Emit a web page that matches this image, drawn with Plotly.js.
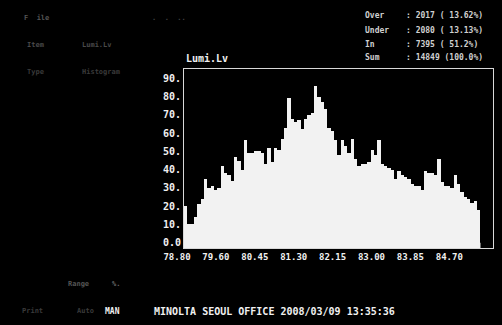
<!DOCTYPE html>
<html>
<head>
<meta charset="utf-8">
<script src="https://cdn.plot.ly/plotly-3.0.1.min.js"></script>
<style>
html,body{margin:0;padding:0;background:#000;}
#chart{width:502px;height:325px;}
</style>
</head>
<body>
<div id="chart"></div>
<script>
// Histogram counts (Lumi.Lv), left to right
const counts = [20,10,10,14,21,24,35,30,31,29,30,42,38,37,34,47,45,40,56,49,
  49,50,50,49,43,52,44,52,51,57,63,79,68,66,67,62,68,70,71,86,
  80,77,73,63,61,56,48,56,53,49,57,46,42,43,43,44,51,48,56,43,
  42,41,40,35,39,37,36,35,32,31,31,29,39,38,38,37,46,33,31,31,
  30,37,32,28,25,24,22,23,18];
const binStart = 78.75;
const binWidth = 0.0728;
const xTickVals = [78.75,79.60,80.45,81.30,82.15,83.00,83.85,84.70];
const xTickText = ["78.80","79.60","80.45","81.30","82.15","83.00","83.85","84.70"];
const yTickVals = [0,10,20,30,40,50,60,70,80,90];
const yTickText = ["0.0","10.","20.","30.","40.","50.","60.","70.","80.","90."];
const statLabels = ["Over","Under","In","Sum"];
const statValues = [": 2017 ( 13.62%)",": 2080 ( 13.13%)",": 7395 ( 51.2%)",": 14849 (100.0%)"];

const xCenters = counts.map((c,i)=>binStart + binWidth*(i+0.5));
const yRange = [-2.9, 95.1];
const mono = "DejaVu Sans Mono";

const trace = {
  type:'bar', x:xCenters, y:counts, width:binWidth,
  marker:{color:'#f2f2f2', line:{width:0}},
  hoverinfo:'skip'
};

const layout = {
  width:502,height:325,
  margin:{l:184,r:9,t:69,b:77,pad:0},
  paper_bgcolor:'#000',plot_bgcolor:'#000',
  showlegend:false,bargap:0,
  xaxis:{range:[78.75,85.503],tickvals:xTickVals,ticktext:xTickText,
    ticklabelshift:-7,ticks:'',showgrid:false,zeroline:false,
    showline:true,mirror:true,linecolor:'#d8d8d8',linewidth:1,
    tickfont:{family:mono,size:9,color:'#f0f0f0',weight:'bold'},fixedrange:true},
  yaxis:{range:yRange,tickvals:yTickVals,ticktext:yTickText,
    ticks:'',showgrid:false,zeroline:false,
    showline:true,mirror:true,linecolor:'#d8d8d8',linewidth:1,
    tickfont:{family:mono,size:10,color:'#f0f0f0',weight:'bold'},fixedrange:true},
  // the display fills the strip under the zero line beneath the bars
  shapes:[{type:'rect',xref:'x',yref:'y',
    x0:xCenters[0]-binWidth/2, x1:xCenters[xCenters.length-1]+binWidth/2,
    y0:yRange[0], y1:0, fillcolor:'#f2f2f2', line:{width:0}}],
  annotations:[],
  font:{family:mono,color:'#fff'}
};
function px(x){return (x-184)/309;}
function py(y){return (248-y)/179;}
const texts = [
  ['Lumi.Lv',184,59,10,'#f0f0f0','left'],
  [statLabels[0],363,15,8,'#d0d0d0','left'],
  [statLabels[1],363,30,8,'#d0d0d0','left'],
  [statLabels[2],363,44,8,'#d0d0d0','left'],
  [statLabels[3],363,58,8,'#d0d0d0','left'],
  [statValues[0],404,15,8,'#d0d0d0','left'],
  [statValues[1],404,30,8,'#d0d0d0','left'],
  [statValues[2],404,44,8,'#d0d0d0','left'],
  [statValues[3],404,58,8,'#d0d0d0','left'],
  ['MINOLTA SEOUL OFFICE 2008/03/09 13:35:36',152,311,10,'#f0f0f0','left'],
  ['MAN',103,311,8,'#f0f0f0','left'],
  ['F  ile',22,18,7,'#555','left'],
  ['.  .  ..',150,18,7,'#444','left'],
  ['Item',25,45,7,'#4a4a4a','left'],
  ['Lumi.Lv',80,45,7,'#4a4a4a','left'],
  ['Type',25,72,7,'#3a3a3a','left'],
  ['Histogram',80,72,7,'#3a3a3a','left'],
  ['Range',66,284,7,'#555','left'],
  ['%.',110,284,7,'#666','left'],
  ['Print',20,311,7,'#3a3a3a','left'],
  ['Auto',75,311,7,'#3a3a3a','left']
];
layout.annotations = texts.map(t=>({xref:'paper',yref:'paper',x:px(t[1]),y:py(t[2]),
  xanchor:t[5],yanchor:'middle',text:t[0],showarrow:false,
  font:{family:mono,size:t[3],color:t[4],weight:'bold'}}));
Plotly.newPlot('chart',[trace],layout,{displayModeBar:false,staticPlot:true});
</script>
</body>
</html>
